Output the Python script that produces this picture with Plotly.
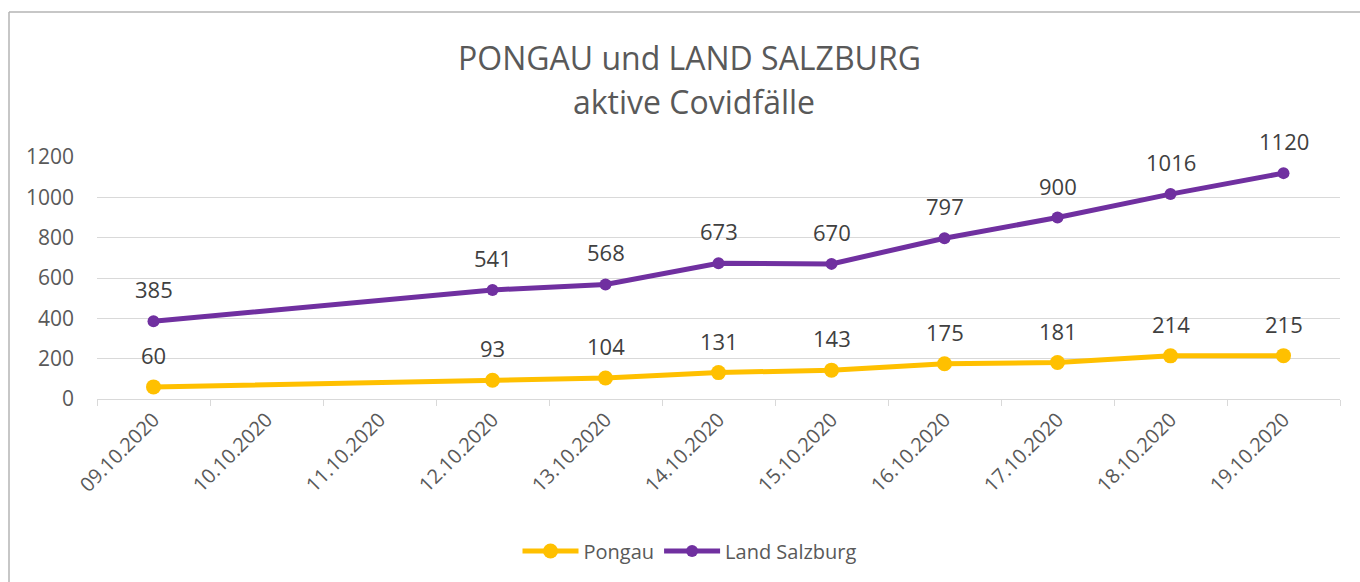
import plotly.graph_objects as go

dates = ["09.10.2020", "10.10.2020", "11.10.2020", "12.10.2020", "13.10.2020",
         "14.10.2020", "15.10.2020", "16.10.2020", "17.10.2020", "18.10.2020", "19.10.2020"]
pongau = [60, None, None, 93, 104, 131, 143, 175, 181, 214, 215]
salzburg = [385, None, None, 541, 568, 673, 670, 797, 900, 1016, 1120]

FONT = "Open Sans"
TXT = "#595959"
LBL = "#404040"

fig = go.Figure()
fig.add_trace(go.Scatter(
    x=dates, y=pongau, name="Pongau", mode="lines+markers",
    connectgaps=True,
    line=dict(color="#FFC000", width=5), marker=dict(size=15, color="#FFC000"),
    cliponaxis=False,
))
fig.add_trace(go.Scatter(
    x=dates, y=salzburg, name="Land Salzburg", mode="lines+markers",
    connectgaps=True,
    line=dict(color="#7030A0", width=5), marker=dict(size=12, color="#7030A0"),
    cliponaxis=False,
))

L, R, T, B = 97, 20, 157, 183
W, H = 1360, 582
pw, ph = W - L - R, H - T - B

def px(x):
    return (x - L) / pw

def py(y):
    return (H - B - y) / ph

annotations = []
for series in (pongau, salzburg):
    for d, v in zip(dates, series):
        if v is None:
            continue
        annotations.append(dict(
            x=d, y=v, xref="x", yref="y", text=str(v), showarrow=False,
            yshift=32, font=dict(family=FONT, size=22, color=LBL),
            xanchor="center", yanchor="middle"))

annotations += [
    dict(text="PONGAU und LAND SALZBURG", x=px(689), y=py(58), xref="paper", yref="paper",
         showarrow=False, font=dict(family=FONT, size=32, color=TXT), xanchor="center", yanchor="middle"),
    dict(text="aktive Covidfälle", x=px(694), y=py(101), xref="paper", yref="paper",
         showarrow=False, font=dict(family=FONT, size=32, color=TXT), xanchor="center", yanchor="middle"),
]

fig.update_layout(
    width=W, height=H,
    margin=dict(l=L, r=R, t=T, b=B),
    paper_bgcolor="white", plot_bgcolor="white",
    font=dict(family=FONT, color=TXT),
    showlegend=True,
    legend=dict(orientation="h", x=px(690), xanchor="center", y=py(551), yanchor="middle",
                font=dict(family=FONT, size=20, color=TXT), itemwidth=56,
                traceorder="normal"),
    xaxis=dict(type="category", tickangle=-45, tickson="boundaries",
               ticks="outside", ticklen=6, tickcolor="#D9D9D9",
               showline=True, linecolor="#D9D9D9", linewidth=1,
               showgrid=False, tickfont=dict(family=FONT, size=20, color=TXT),
               range=[-0.5, 10.5]),
    yaxis=dict(range=[0, 1200], dtick=200, showgrid=True, gridcolor="#D9D9D9",
               gridwidth=1, zeroline=False, showline=False, ticks="",
               ticklabelstandoff=22,
               tickfont=dict(family=FONT, size=21, color=TXT)),
    annotations=annotations,
    shapes=[
        dict(type="line", xref="paper", yref="paper", x0=px(9), x1=px(1365), y0=py(12), y1=py(12),
             line=dict(color="#B4B4B4", width=1.5)),
        dict(type="line", xref="paper", yref="paper", x0=px(9), x1=px(9), y0=py(12), y1=py(590),
             line=dict(color="#B4B4B4", width=1.5)),
    ],
)

fig.write_html("out.html", config={"displayModeBar": False},
               post_script="document.body.style.margin='0';")
